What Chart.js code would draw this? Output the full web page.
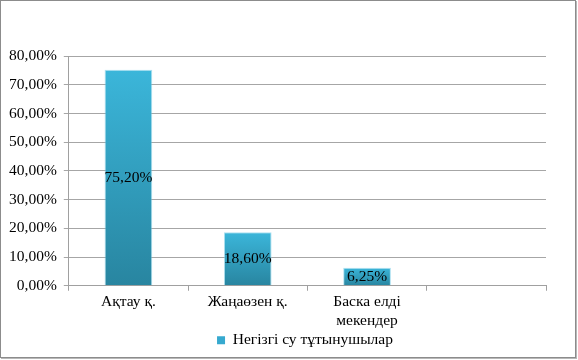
<!DOCTYPE html>
<html>
<head>
<meta charset="utf-8">
<script src="https://cdn.jsdelivr.net/npm/chart.js@4/dist/chart.umd.min.js"></script>
<style>
    body { margin: 0; background: #fff; }
    #wrap { position: relative; width: 578px; height: 360px; }
    #frame {
        position: absolute; left: 0; top: 0; width: 576px; height: 358px;
        border: 1px solid #8c8c8c; box-sizing: border-box;
        box-shadow: 1px 1px 0 #b8b8b8; pointer-events: none;
    }
</style>
</head>
<body>
<div id="wrap">
    <canvas id="waterChart" width="578" height="360"></canvas>
    <div id="frame"></div>
</div>
<script>
const categories = ['Ақтау қ.', 'Жаңаөзен қ.', ['Баска елді', 'мекендер'], ''];
const consumers = [75.2, 18.6, 6.25, null];
const seriesName = 'Негізгі су тұтынушылар';
const yTicks = [0, 10, 20, 30, 40, 50, 60, 70, 80];

const FAMILY = '"Liberation Serif", "Times New Roman", serif';
const SIZE = 15.5;

function pct(v) {
    return v.toFixed(2).replace('.', ',') + '%';
}

function barGradient(context) {
    const chart = context.chart;
    const value = consumers[context.dataIndex];
    if (!chart.chartArea || value == null) return '#2f9cbd';
    const y = chart.scales.y;
    const top = y.getPixelForValue(value);
    const bottom = y.getPixelForValue(0);
    const g = chart.ctx.createLinearGradient(0, top, 0, bottom);
    g.addColorStop(0, '#3bb6da');
    g.addColorStop(1, '#2885a0');
    return g;
}

// labels in the middle of each bar
const centerLabels = {
    id: 'centerLabels',
    afterDatasetsDraw(chart) {
        const ctx = chart.ctx;
        const meta = chart.getDatasetMeta(0);
        ctx.save();
        ctx.font = SIZE + 'px ' + FAMILY;
        ctx.fillStyle = '#000';
        ctx.textAlign = 'center';
        ctx.textBaseline = 'middle';
        meta.data.forEach(function(bar, i) {
            const v = consumers[i];
            if (v == null) return;
            ctx.fillText(pct(v), bar.x, (bar.y + bar.base) / 2);
        });
        ctx.restore();
    }
};

// the legend sits a bit right of centre in the original
const legendShift = {
    id: 'legendShift',
    afterLayout(chart) {
        chart.legend.left += 31;
        chart.legend.right += 31;
    }
};

document.addEventListener('DOMContentLoaded', function() {
    Chart.defaults.font.family = FAMILY;
    Chart.defaults.font.size = SIZE;
    Chart.defaults.color = '#000';

    const ctx = document.getElementById('waterChart').getContext('2d');

    new Chart(ctx, {
        type: 'bar',
        data: {
            labels: categories,
            datasets: [{
                label: seriesName,
                data: consumers,
                backgroundColor: barGradient,
                borderColor: 'rgba(120, 205, 230, 0.6)',
                borderWidth: 1,
                categoryPercentage: 1,
                barPercentage: 0.4
            }]
        },
        options: {
            responsive: false,
            animation: false,
            layout: {
                padding: { left: 2, right: 32, top: 56, bottom: 2 }
            },
            plugins: {
                tooltip: { enabled: false },
                legend: {
                    position: 'bottom',
                    labels: {
                        boxWidth: 8,
                        boxHeight: 8,
                        padding: 0,
                        generateLabels: function() {
                            return [{
                                text: seriesName,
                                fillStyle: '#36a9cf',
                                strokeStyle: '#36a9cf',
                                lineWidth: 0,
                                datasetIndex: 0
                            }];
                        }
                    }
                }
            },
            scales: {
                y: {
                    min: 0,
                    max: 80,
                    afterBuildTicks: function(axis) {
                        axis.ticks = yTicks.map(function(v) { return { value: v }; });
                    },
                    grid: {
                        color: '#a6a6a6',
                        tickLength: 5
                    },
                    border: { display: true, color: '#a0a0a0' },
                    ticks: {
                        padding: 7,
                        callback: function(v) { return pct(v); }
                    }
                },
                x: {
                    grid: {
                        drawOnChartArea: false,
                        color: '#a0a0a0',
                        tickLength: 5
                    },
                    border: { display: true, color: '#a0a0a0' },
                    ticks: {
                        font: { lineHeight: 1.25 },
                        padding: 1.5,
                        maxRotation: 0
                    }
                }
            }
        },
        plugins: [centerLabels, legendShift]
    });
});
</script>
</body>
</html>
